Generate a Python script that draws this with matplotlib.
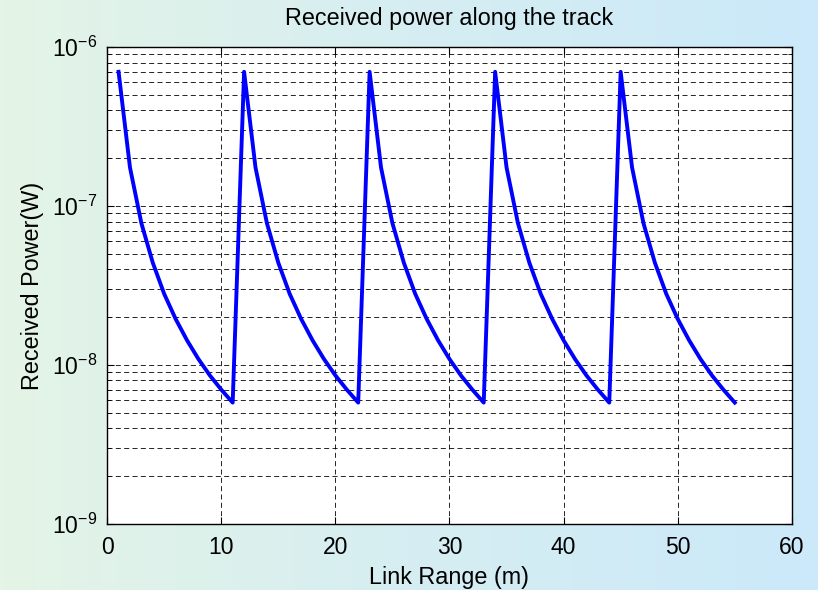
import numpy as np
import matplotlib
matplotlib.use("Agg")
import matplotlib.pyplot as plt
from matplotlib.colors import LinearSegmentedColormap

plt.rcParams['font.family'] = ['Liberation Sans', 'DejaVu Sans']
plt.rcParams['mathtext.fontset'] = 'custom'
plt.rcParams['mathtext.rm'] = 'Liberation Sans'
plt.rcParams['mathtext.it'] = 'Liberation Sans'
plt.rcParams['mathtext.default'] = 'regular'

# ------------------------------
# Datos
# ------------------------------
link_range = [1, 2, 3, 4, 5, 6, 7, 8, 9, 10, 11,
              12, 13, 14, 15, 16, 17, 18, 19, 20, 21, 22,
              23, 24, 25, 26, 27, 28, 29, 30, 31, 32, 33,
              34, 35, 36, 37, 38, 39, 40, 41, 42, 43, 44,
              45, 46, 47, 48, 49, 50, 51, 52, 53, 54, 55]

received_power = [7.0e-7, 1.75e-7, 7.8e-8, 4.4e-8, 2.8e-8, 1.95e-8, 1.43e-8, 1.09e-8, 8.6e-9, 7.0e-9, 5.8e-9,
                  7.0e-7, 1.75e-7, 7.8e-8, 4.4e-8, 2.8e-8, 1.95e-8, 1.43e-8, 1.09e-8, 8.6e-9, 7.0e-9, 5.8e-9,
                  7.0e-7, 1.75e-7, 7.8e-8, 4.4e-8, 2.8e-8, 1.95e-8, 1.43e-8, 1.09e-8, 8.6e-9, 7.0e-9, 5.8e-9,
                  7.0e-7, 1.75e-7, 7.8e-8, 4.4e-8, 2.8e-8, 1.95e-8, 1.43e-8, 1.09e-8, 8.6e-9, 7.0e-9, 5.8e-9,
                  7.0e-7, 1.75e-7, 7.8e-8, 4.4e-8, 2.8e-8, 1.95e-8, 1.43e-8, 1.09e-8, 8.6e-9, 7.0e-9, 5.8e-9]

x_ticks = [0, 10, 20, 30, 40, 50, 60]
y_ticks = [1e-9, 1e-8, 1e-7, 1e-6]
y_tick_labels = ['$10^{-9}$', '$10^{-8}$', '$10^{-7}$', '$10^{-6}$']

# ------------------------------
# Figura con fondo degradado
# ------------------------------
fig = plt.figure(figsize=(8.18, 5.9), dpi=100)

bg = fig.add_axes([0, 0, 1, 1], zorder=-10)
cmap = LinearSegmentedColormap.from_list('bg', ['#e4f4e6', '#d6eef2', '#cbe9fa'])
grad = np.linspace(0, 1, 256).reshape(1, -1)
bg.imshow(grad, aspect='auto', cmap=cmap, extent=[0, 1, 0, 1])
bg.axis('off')

ax = fig.add_axes([0.131, 0.112, 0.837, 0.808])
ax.set_facecolor('white')
ax.semilogy(link_range, received_power, color='#0000ff', linewidth=2.8)

ax.set_xlim(0, 60)
ax.set_ylim(1e-9, 1e-6)
ax.set_xticks(x_ticks)
ax.set_yticks(y_ticks)
ax.set_yticklabels(y_tick_labels)

ax.grid(True, which='major', axis='both', color='k', linestyle=(0, (6, 4)), linewidth=0.6)
ax.grid(True, which='minor', axis='y', color='k', linestyle=(0, (6, 4)), linewidth=0.6)

ax.tick_params(which='both', direction='in', top=True, right=True, labelsize=16.5)
ax.tick_params(axis='x', pad=9)
ax.tick_params(axis='y', pad=7)
ax.tick_params(which='major', length=5)
ax.tick_params(which='minor', length=3)
for s in ax.spines.values():
    s.set_linewidth(1.0)

ax.set_title('Received power along the track', fontsize=16.8, pad=16)
ax.set_xlabel('Link Range (m)', fontsize=16.8, labelpad=5)
ax.set_ylabel('Received Power(W)', fontsize=16.8, labelpad=6)

fig.savefig('out.png', dpi=100)
